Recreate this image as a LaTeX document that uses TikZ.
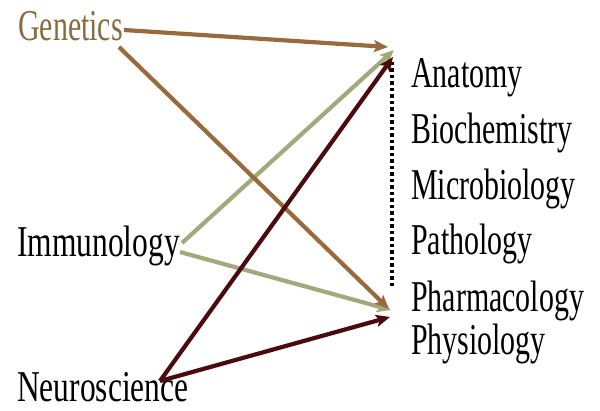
\documentclass[tikz,border=0pt]{standalone}
\usepackage{fontspec}
\usepackage{graphicx}
\setmainfont{Liberation Serif}
\usetikzlibrary{arrows.meta}
\definecolor{genbrown}{HTML}{9A6A3C}
\definecolor{gentext}{HTML}{8C6A40}
\definecolor{immgreen}{HTML}{A2AA7B}
\definecolor{neured}{HTML}{4A0A0E}
\newcommand{\sq}[1]{\scalebox{0.68}[1]{#1}}
\newcommand{\sqw}[1]{\scalebox{0.715}[1]{#1}}
\tikzset{
  lbl/.style={anchor=base west, inner sep=0pt, font=\fontsize{44}{52}\selectfont},
  conn/.style={line width=4.2pt, -{Stealth[length=14pt,width=12pt,inset=3pt]}},
}
\begin{document}
\begin{tikzpicture}[x=1pt,y=-1pt]
\useasboundingbox (0,0) rectangle (600,411);
% left labels
\node[lbl, text=gentext] (gen) at (18,41) {\sq{Genetics}};
\node[lbl] (imm) at (17,257) {\sqw{Immunology}};
\node[lbl] (neu) at (17,402) {\sqw{Neuroscience}};
% right labels
\node[lbl] (ana) at (411,88) {\sq{Anatomy}};
\node[lbl] (bio) at (411,144) {\sq{Biochemistry}};
\node[lbl] (mic) at (411,200) {\sq{Microbiology}};
\node[lbl] (pat) at (411,255) {\sq{Pathology}};
\node[lbl] (pha) at (411,312) {\sq{Pharmacology}};
\node[lbl] (phy) at (411,355) {\sq{Physiology}};
% connector coordinates
\coordinate (g1) at (124,30);
\coordinate (g2) at (119,47);
\coordinate (i1) at (182,243);
\coordinate (i2) at (180,252);
\coordinate (n0) at (160,381);
\coordinate (tb) at (388,47);
\coordinate (tg) at (394,50);
\coordinate (tr) at (393,57);
\coordinate (bb) at (389,309);
\coordinate (bg) at (391,310);
\coordinate (br) at (390,317);
\coordinate (d1) at (392,62);
\coordinate (d2) at (392,286);
% dotted link
\draw[line width=3.5pt, dash pattern=on 3.5pt off 3pt] (d1) -- (d2);
% connectors
\draw[conn, immgreen] (i1) -- (tg);
\draw[conn, immgreen] (i2) -- (bg);
\draw[conn, genbrown] (g1) -- (tb);
\draw[conn, genbrown] (g2) -- (bb);
\draw[conn, neured] (n0) -- (tr);
\draw[conn, neured] (n0) -- (br);
\end{tikzpicture}
\end{document}
